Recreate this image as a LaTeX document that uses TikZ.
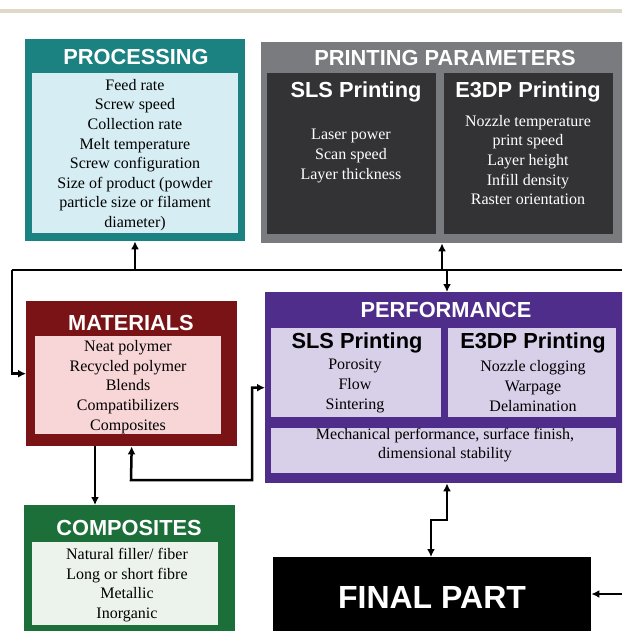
\documentclass[tikz,border=0pt]{standalone}
\usepackage{fontspec}
\setmainfont{Liberation Serif}
\newfontfamily\hdfont{Liberation Sans}
\usetikzlibrary{arrows.meta}
\definecolor{cteal}{HTML}{1C8181}
\definecolor{clblue}{HTML}{D5EDF3}
\definecolor{cgray}{HTML}{7A7B7F}
\definecolor{cdark}{HTML}{333336}
\definecolor{cmaroon}{HTML}{7A1315}
\definecolor{cpink}{HTML}{F8D5D6}
\definecolor{cpurple}{HTML}{4F2E8B}
\definecolor{clav}{HTML}{D8CFE8}
\definecolor{cgreen}{HTML}{1D6F3A}
\definecolor{clgreen}{HTML}{ECF3EC}
\definecolor{cbeige}{HTML}{DED9C9}
\tikzset{
  blk/.style 2 args={rectangle, inner sep=0pt, anchor=north west, minimum width=#1, minimum height=#2},
  listtxt/.style={align=center, inner sep=0pt, font=\fontsize{16}{19.6}\selectfont},
  ttl/.style={inner sep=0pt, font=\hdfont\bfseries\fontsize{21.8}{24}\selectfont},
  conn/.style={line width=2.5pt, draw=black},
  arr/.style={-{Latex[length=8pt,width=8pt]}},
  darr/.style={{Latex[length=8pt,width=8pt]}-{Latex[length=8pt,width=8pt]}}
}
\begin{document}
\begin{tikzpicture}[x=1pt,y=-1pt]
\useasboundingbox (0,0) rectangle (622,631);
\clip (0,0) rectangle (622,631);
\fill[white] (0,0) rectangle (622,631);
\fill[cbeige] (0,9.5) rectangle (622,13);

% PROCESSING
\node[blk={220pt}{202pt}, fill=cteal] (proc) at (25,39) {};
\node[blk={206pt}{160pt}, fill=clblue] (procin) at (32,73) {};
\node[ttl, text=white] (proct) at (136,57) {PROCESSING};
\node[listtxt] (procl) at (135,155) {Feed rate\\Screw speed\\Collection rate\\Melt temperature\\Screw configuration\\Size of product (powder\\particle size or filament\\diameter)};

% PRINTING PARAMETERS
\node[blk={365pt}{201pt}, fill=cgray] (pp) at (261,42) {};
\node[blk={169pt}{161pt}, fill=cdark] (ppsls) at (267,73) {};
\node[blk={169pt}{161pt}, fill=cdark] (ppe3) at (444,73) {};
\node[ttl, text=white] (ppt) at (445,58) {PRINTING PARAMETERS};
\node[ttl, text=white] (ppslst) at (356,92) {SLS Printing};
\node[ttl, text=white] (ppe3t) at (528,92) {E3DP Printing};
\node[listtxt, text=white] (ppslsl) at (351,156) {Laser power\\Scan speed\\Layer thickness};
\node[listtxt, text=white] (ppe3l) at (528,160) {Nozzle temperature\\print speed\\Layer height\\Infill density\\Raster orientation};

% MATERIALS
\node[blk={211pt}{145pt}, fill=cmaroon] (mat) at (26,301) {};
\node[blk={186pt}{98pt}, fill=cpink] (matin) at (35,336) {};
\node[ttl, text=white] (matt) at (131,323) {MATERIALS};
\node[listtxt] (matl) at (128,387) {Neat polymer\\Recycled polymer\\Blends\\Compatibilizers\\Composites};

% PERFORMANCE
\node[blk={365pt}{191pt}, fill=cpurple] (perf) at (265,292) {};
\node[blk={170pt}{89pt}, fill=clav] (perfsls) at (271,328) {};
\node[blk={168pt}{89pt}, fill=clav] (perfe3) at (448,328) {};
\node[blk={345pt}{45pt}, fill=clav] (perfmech) at (271,428) {};
\node[ttl, text=white] (perft) at (446,310) {PERFORMANCE};
\node[ttl] (perfslst) at (357,343) {SLS Printing};
\node[ttl] (perfe3t) at (533,343) {E3DP Printing};
\node[listtxt] (perfslsl) at (355,386) {Porosity\\Flow\\Sintering};
\node[listtxt] (perfe3l) at (533,386) {Nozzle clogging\\Warpage\\Delamination};
\node[listtxt] (perfmechl) at (445,445) {Mechanical performance, surface finish,\\dimensional stability};

% COMPOSITES
\node[blk={211pt}{140pt}, fill=cgreen] (comp) at (24,505) {};
\node[blk={186pt}{83pt}, fill=clgreen] (compin) at (32,542) {};
\node[ttl, text=white] (compt) at (129,528) {COMPOSITES};
\node[listtxt] (compl) at (127,585) {Natural filler/ fiber\\Long or short fibre\\Metallic\\Inorganic};

% FINAL PART
\node[blk={318pt}{90pt}, fill=black] (fin) at (273,557) {};
\node[inner sep=0pt, text=white, font=\hdfont\bfseries\fontsize{32}{36}\selectfont] (fint) at (432,597) {FINAL PART};

% connectors
\coordinate (rin) at (622,270);
\coordinate (lcorner) at (12,270);
\coordinate (jproc) at (135,270);
\coordinate (jpp) at (442,270);
\coordinate (jperf) at (447,270);
\draw[conn] (rin) -- (lcorner);
\draw[conn, arr] (lcorner) |- (mat.west);
\draw[conn, arr] (jproc) -- (proc.south -| jproc);
\draw[conn, arr] (jpp) -- (pp.south -| jpp);
\draw[conn, arr] (jperf) -- (perf.north -| jperf);
\coordinate (lb1) at (131,480);
\coordinate (lb2) at (252,480);
\draw[conn, darr] (mat.south) -- (lb1) -- (lb2) |- (perf.west);
\coordinate (mc) at (95,446);
\draw[conn, arr] (mc) -- (comp.north -| mc);
\coordinate (z1) at (447,520);
\coordinate (z2) at (431,520);
\draw[conn, darr] (perf.south -| z1) -- (z1) -- (z2) -- (fin.north -| z2);
\coordinate (fr) at (622,594);
\draw[conn, arr] (fr) -- (fin.east |- fr);
\end{tikzpicture}
\end{document}
